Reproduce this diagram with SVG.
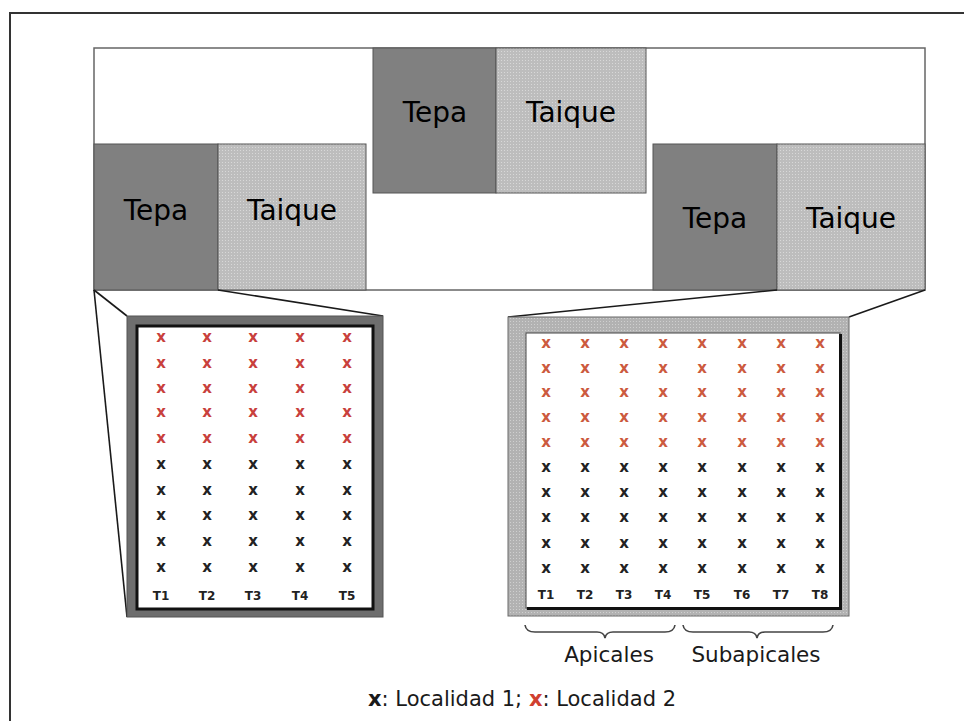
<svg xmlns="http://www.w3.org/2000/svg" width="964" height="721" viewBox="0 0 964 721">
<defs>
<pattern id="dots" width="3" height="3" patternUnits="userSpaceOnUse"><rect width="3" height="3" fill="#bdbdbd"/><rect width="1" height="1" fill="#d8d8d8"/></pattern>
<pattern id="dots2" width="3" height="3" patternUnits="userSpaceOnUse"><rect width="3" height="3" fill="#b2b2b2"/><rect width="1" height="1" fill="#cfcfcf"/></pattern>
<style>
.lbl{font-family:"DejaVu Sans","Liberation Sans",sans-serif;font-size:28px;fill:#000;text-anchor:middle}
.tepa{fill:#808080;stroke:#555;stroke-width:1}
.taique{fill:url(#dots);stroke:#555;stroke-width:1}
.xk{font-family:"DejaVu Sans","Liberation Sans",sans-serif;font-weight:bold;font-size:15px;fill:#222;text-anchor:middle}
.xr{font-family:"DejaVu Sans","Liberation Sans",sans-serif;font-weight:bold;font-size:15px;fill:#c8403c;text-anchor:middle}
.xo{font-family:"DejaVu Sans","Liberation Sans",sans-serif;font-weight:bold;font-size:15px;fill:#cc5a3e;text-anchor:middle}
.tl{font-family:"DejaVu Sans","Liberation Sans",sans-serif;font-weight:bold;font-size:12px;fill:#222;text-anchor:middle}
.conn{stroke:#1a1a1a;stroke-width:1.6;fill:none}
.brace{stroke:#444;stroke-width:1.6;fill:none}
.cap{font-family:"DejaVu Sans","Liberation Sans",sans-serif;font-size:21.5px;fill:#1a1a1a;text-anchor:middle}
</style>
</defs>
<rect width="964" height="721" fill="#fff"/>
<g id="frame"><path d="M10,721 V13 H964" stroke="#333" stroke-width="2" fill="none"/></g>
<g id="field"><rect x="94" y="48" width="831" height="242" fill="#fff" stroke="#666" stroke-width="1.5"/></g>
<g id="block-center">
<rect class="tepa" x="373" y="48" width="123" height="145"/>
<rect class="taique" x="496" y="48" width="150" height="145"/>
<text class="lbl" x="435" y="122">Tepa</text>
<text class="lbl" x="571" y="122">Taique</text>
</g>
<g id="block-left">
<rect class="tepa" x="94" y="144" width="124" height="146"/>
<rect class="taique" x="218" y="144" width="148" height="146"/>
<text class="lbl" x="156" y="220">Tepa</text>
<text class="lbl" x="292" y="220">Taique</text>
</g>
<g id="block-right">
<rect class="tepa" x="653" y="144" width="124" height="146"/>
<rect class="taique" x="777" y="144" width="148" height="146"/>
<text class="lbl" x="715" y="228">Tepa</text>
<text class="lbl" x="851" y="228">Taique</text>
</g>
<g id="connectors">
<line class="conn" x1="94" y1="290" x2="127" y2="316"/>
<line class="conn" x1="94" y1="290" x2="127" y2="617"/>
<line class="conn" x1="218" y1="290" x2="383" y2="316"/>
<line class="conn" x1="777" y1="290" x2="508" y2="317"/>
<line class="conn" x1="925" y1="290" x2="849" y2="317"/>
</g>
<g id="plot-left">
<rect x="127" y="316" width="256" height="301" fill="#6e6e6e" stroke="#555" stroke-width="1"/>
<rect x="137" y="326" width="236" height="283" fill="#fff" stroke="#111" stroke-width="3"/>
<text class="xr" x="161 207 253 300 347" y="342">xxxxx</text>
<text class="xr" x="161 207 253 300 347" y="368">xxxxx</text>
<text class="xr" x="161 207 253 300 347" y="393">xxxxx</text>
<text class="xr" x="161 207 253 300 347" y="417">xxxxx</text>
<text class="xr" x="161 207 253 300 347" y="443">xxxxx</text>
<text class="xk" x="161 207 253 300 347" y="469">xxxxx</text>
<text class="xk" x="161 207 253 300 347" y="495">xxxxx</text>
<text class="xk" x="161 207 253 300 347" y="520">xxxxx</text>
<text class="xk" x="161 207 253 300 347" y="546">xxxxx</text>
<text class="xk" x="161 207 253 300 347" y="572">xxxxx</text>
<text class="tl" x="161" y="600">T1</text>
<text class="tl" x="207" y="600">T2</text>
<text class="tl" x="253" y="600">T3</text>
<text class="tl" x="300" y="600">T4</text>
<text class="tl" x="347" y="600">T5</text>
</g>
<g id="plot-right">
<rect x="508" y="317" width="341" height="299" fill="url(#dots2)" stroke="#6a6a6a" stroke-width="1"/>
<rect x="526" y="333" width="314" height="275" fill="#fff" stroke="#444" stroke-width="1"/>
<path d="M840.5,334 V608.5 H527" stroke="#111" stroke-width="3" fill="none"/>
<text class="xo" x="546 585 624 663 702 742 781 820" y="348">xxxxxxxx</text>
<text class="xo" x="546 585 624 663 702 742 781 820" y="373">xxxxxxxx</text>
<text class="xo" x="546 585 624 663 702 742 781 820" y="397">xxxxxxxx</text>
<text class="xo" x="546 585 624 663 702 742 781 820" y="422">xxxxxxxx</text>
<text class="xo" x="546 585 624 663 702 742 781 820" y="447">xxxxxxxx</text>
<text class="xk" x="546 585 624 663 702 742 781 820" y="472">xxxxxxxx</text>
<text class="xk" x="546 585 624 663 702 742 781 820" y="497">xxxxxxxx</text>
<text class="xk" x="546 585 624 663 702 742 781 820" y="522">xxxxxxxx</text>
<text class="xk" x="546 585 624 663 702 742 781 820" y="548">xxxxxxxx</text>
<text class="xk" x="546 585 624 663 702 742 781 820" y="573">xxxxxxxx</text>
<text class="tl" x="546" y="599">T1</text>
<text class="tl" x="585" y="599">T2</text>
<text class="tl" x="624" y="599">T3</text>
<text class="tl" x="663" y="599">T4</text>
<text class="tl" x="702" y="599">T5</text>
<text class="tl" x="742" y="599">T6</text>
<text class="tl" x="781" y="599">T7</text>
<text class="tl" x="820" y="599">T8</text>
</g>
<g id="braces">
<path class="brace" d="M525,625 Q526,632 535,632 L597,632 Q604,632 605,638 Q606,632 613,632 L665,632 Q674,632 675,625"/>
<path class="brace" d="M683,625 Q684,632 693,632 L749,632 Q756,632 757,638 Q758,632 765,632 L823,632 Q832,632 833,625"/>
<text class="cap" x="609" y="662">Apicales</text>
<text class="cap" x="756" y="662">Subapicales</text>
</g>
<g id="legend">
<text x="368" y="706" style="font-family:'DejaVu Sans','Liberation Sans',sans-serif;font-size:21px;fill:#1a1a1a"><tspan font-weight="bold">x</tspan>: Localidad 1; <tspan font-weight="bold" fill="#d04030">x</tspan>: Localidad 2</text>
</g>
</svg>
